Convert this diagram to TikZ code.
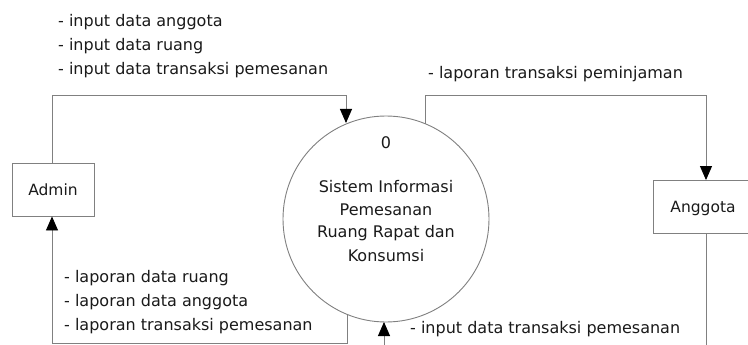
\documentclass[tikz,border=0pt]{standalone}
\usepackage{fontspec}
\setmainfont{DejaVu Sans}
\usetikzlibrary{arrows.meta}
\definecolor{linegray}{HTML}{808080}
\definecolor{textgray}{HTML}{1A1A1A}
\tikzset{
  flow/.style={draw=linegray, line width=0.9pt, -{Triangle[width=12pt,length=14pt,color=black]}},
  plain/.style={draw=linegray, line width=0.9pt},
  entity/.style={draw=linegray, line width=0.9pt, minimum width=82pt, minimum height=53pt, inner sep=0pt, font=\fontsize{15.5}{18}\selectfont, text=textgray},
  process/.style={circle, draw=linegray, line width=0.9pt, minimum size=206pt, inner sep=0pt},
  lbl/.style={anchor=west, inner sep=0pt, font=\fontsize{16}{18}\selectfont, text=textgray, align=left},
  ptxt/.style={inner sep=0pt, font=\fontsize{16}{18}\selectfont, text=textgray}
}
\begin{document}
\begin{tikzpicture}[x=1pt, y=-1pt]
\useasboundingbox (0,0) rectangle (748,345);
\fill[white] (0,0) rectangle (748,345);

% process bubble
\node[process] (proc) at (386,219) {};
\node[ptxt] (pnum) at (386,143) {0};
\node[ptxt] (pl1) at (386,187) {Sistem Informasi};
\node[ptxt] (pl2) at (386,210) {Pemesanan};
\node[ptxt] (pl3) at (386,233) {Ruang Rapat dan};
\node[ptxt] (pl4) at (386,255.5) {Konsumsi};

% external entities
\node[entity] (admin) at (53,189.5) {Admin};
\node[entity, minimum width=110pt, anchor=west] (anggota) at (653,207) {};
\node[ptxt, font=\fontsize{15.5}{18}\selectfont] (anggotatxt) at (703,208) {Anggota};

% bend points
\coordinate (a1) at (52,95);
\coordinate (a2) at (346,95);
\coordinate (a3) at (346,123);
\coordinate (b1) at (347,343);
\coordinate (b2) at (52,343);
\coordinate (c0) at (425,124);
\coordinate (c1) at (425,95);
\coordinate (c2) at (706,95);
\coordinate (d0) at (706,345);
\coordinate (e0) at (384,345);
\coordinate (e1) at (384,322);
\coordinate (b0) at (347,314);

% data flows
\draw[flow] (admin.north -| a1) -- (a1) -- (a2) -- (a3);
\draw[flow] (b0) -- (b1) -- (b2) -- (admin.south -| b2);
\draw[flow] (c0) -- (c1) -- (c2) -- (anggota.north -| c2);
\draw[plain] (anggota.south -| d0) -- (d0);
\draw[flow] (e0) -- (e1);

% flow labels
\node[lbl] (t1) at (58,22) {- input data anggota};
\node[lbl] (t2) at (58,46) {- input data ruang};
\node[lbl] (t3) at (58,70) {- input data transaksi pemesanan};
\node[lbl] (t4) at (428,74) {- laporan transaksi peminjaman};
\node[lbl] (t5) at (64,278) {- laporan data ruang};
\node[lbl] (t6) at (64,302) {- laporan data anggota};
\node[lbl] (t7) at (64,326) {- laporan transaksi pemesanan};
\node[lbl] (t8) at (410,329) {- input data transaksi pemesanan};
\end{tikzpicture}
\end{document}
